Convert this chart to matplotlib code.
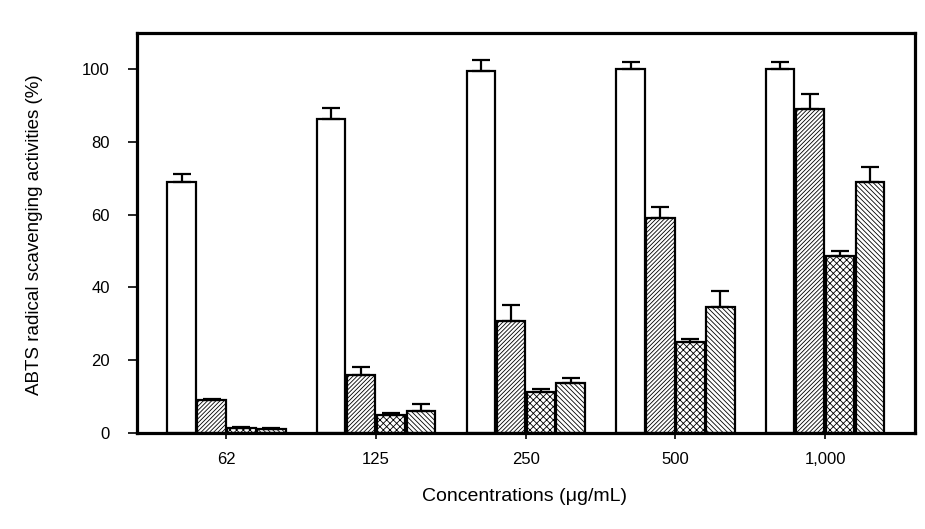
import matplotlib
matplotlib.use("Agg")
import matplotlib.pyplot as plt
import numpy as np

plt.rcParams['font.family'] = ['Liberation Sans', 'DejaVu Sans']
plt.rcParams['hatch.linewidth'] = 0.6

categories = ["62", "125", "250", "500", "1,000"]
series_a = [69.0, 86.4, 99.5, 100.0, 100.0]
series_a_err = [2.1, 3.1, 3.0, 1.9, 1.9]
series_b = [9.0, 15.9, 30.8, 59.1, 89.1]
series_b_err = [0.3, 2.3, 4.4, 3.0, 4.0]
series_c = [1.3, 5.0, 11.3, 25.1, 48.7]
series_c_err = [0.4, 0.5, 0.8, 0.7, 1.3]
series_d = [1.0, 6.1, 13.7, 34.6, 69.0]
series_d_err = [0.3, 1.7, 1.3, 4.4, 4.2]

fig = plt.figure(figsize=(9.25, 5.29), dpi=100)
ax = fig.add_axes([0.1478, 0.182, 0.989 - 0.1478, 0.9376 - 0.182])

x = np.arange(len(categories))
width = 0.19
offsets = [-0.3, -0.1, 0.1, 0.3]
series = [(series_a, series_a_err, ''), (series_b, series_b_err, '////////'),
          (series_c, series_c_err, 'xxxxx'), (series_d, series_d_err, '\\\\\\\\\\\\\\')]

for off, (vals, errs, hatch) in zip(offsets, series):
    ax.bar(x + off, vals, width, color='white', edgecolor='black',
           linewidth=1.6, hatch=hatch, zorder=2)
    ax.errorbar(x + off, vals, yerr=[np.zeros(len(errs)), errs], fmt='none',
                ecolor='black', elinewidth=1.6, capsize=6.5, capthick=1.6, zorder=3)

ax.set_xlim(-0.6, 4.6)
ax.set_ylim(0, 110)
ax.set_yticks([0, 20, 40, 60, 80, 100])
ax.set_xticks(x)
ax.set_xticklabels(categories)
for s in ax.spines.values():
    s.set_linewidth(2.3)
ax.tick_params(axis='both', direction='out', width=1.2, labelsize=12)
ax.tick_params(axis='x', length=4, pad=10)
ax.tick_params(axis='y', length=6.5, pad=13)

ax.set_xlabel("Concentrations (\u03bcg/mL)", fontsize=14)
ax.set_ylabel("ABTS radical scavenging activities (%)", fontsize=13.5)
ax.xaxis.set_label_coords(0.499, -0.138)
ax.yaxis.set_label_coords(-0.121, 0.495)

fig.savefig("out.png", dpi=100)
